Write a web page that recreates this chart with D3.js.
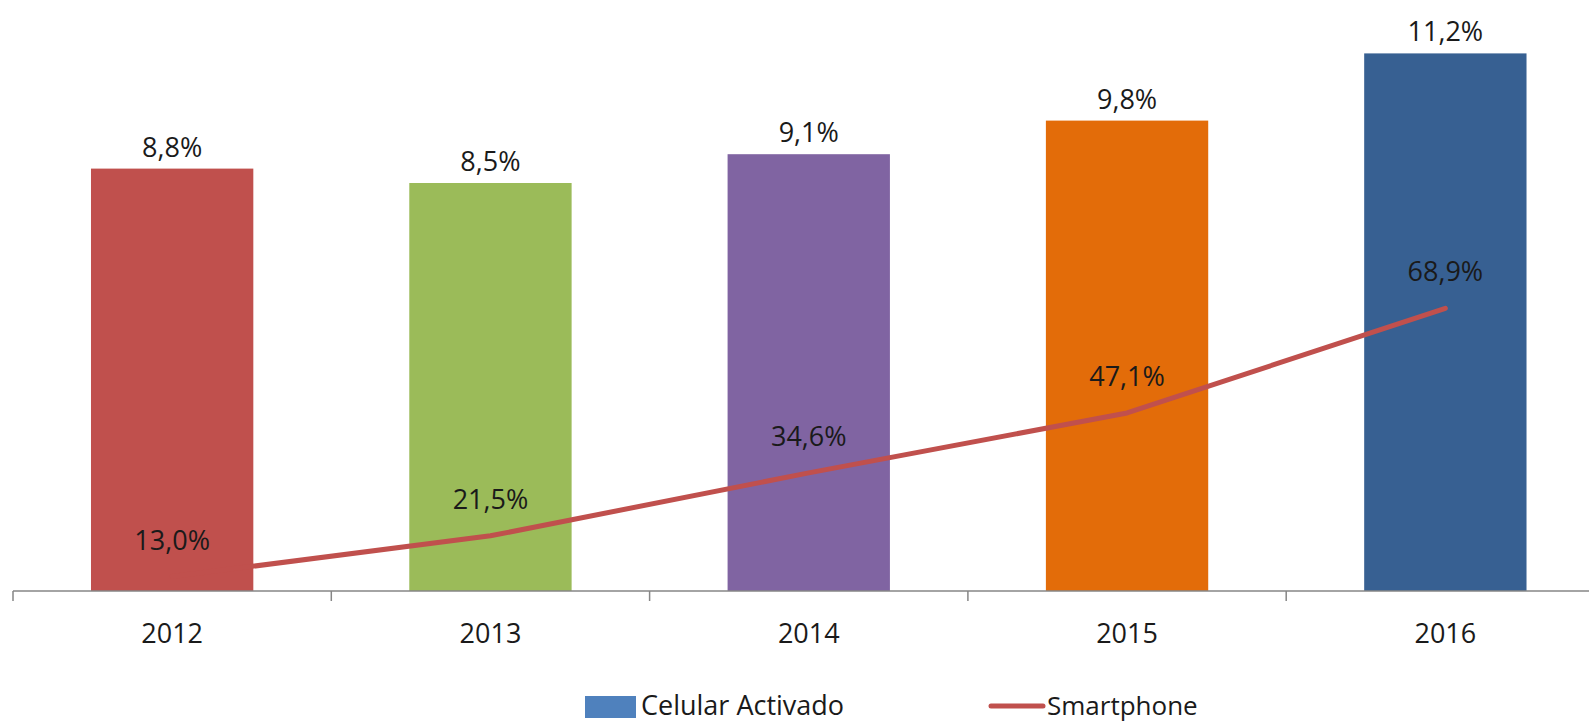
<!DOCTYPE html>
<html>
<head>
<meta charset="utf-8">
<script src="https://cdn.jsdelivr.net/npm/d3@7"></script>
<style>
  body { margin: 0; background: #fff; }
  svg { display: block; font-family: "Open Sans", sans-serif; }
</style>
</head>
<body>
<div id="chart"></div>
<script>
// Celular activado (bars) vs Smartphone (line)

const years = ["2012", "2013", "2014", "2015", "2016"];
const celular = [8.8, 8.5, 9.1, 9.8, 11.2];
const smartphone = [13.0, 21.5, 34.6, 47.1, 68.9];
const barColors = ["#C0504D", "#9BBB59", "#8064A2", "#E36C09", "#376092"];

const width = 1589,
    height = 724,
    axisY = 591,
    plotTop = 15;

const fmt = v => v.toFixed(1).replace(".", ",") + "%";

const svg = d3.select("#chart")
    .append("svg")
    .attr("width", width)
    .attr("height", height);

// category slots (plot runs past the right edge, as in the original)
const slot = d3.scaleBand()
    .domain(years)
    .range([13, 13 + 5 * 318.3]);

const x = slot.copy()
    .paddingInner(0.49)
    .paddingOuter(0.245);

const y = d3.scaleLinear()
    .domain([0, 12])
    .range([axisY, plotTop]);

const y2 = d3.scaleLinear()
    .domain([10, 130])
    .range([axisY, plotTop]);

// bars
svg.append("g")
    .selectAll("rect")
    .data(years)
    .join("rect")
    .attr("x", d => x(d))
    .attr("y", (d, i) => y(celular[i]))
    .attr("width", x.bandwidth())
    .attr("height", (d, i) => axisY - y(celular[i]))
    .attr("fill", (d, i) => barColors[i]);

// bar labels
svg.append("g")
    .selectAll("text")
    .data(years)
    .join("text")
    .attr("x", d => x(d) + x.bandwidth() / 2)
    .attr("y", (d, i) => y(celular[i]) - 12)
    .attr("text-anchor", "middle")
    .attr("font-size", 27)
    .attr("fill", "#1a1a1a")
    .text((d, i) => fmt(celular[i]));

// axis line + tick marks at slot edges
const axis = svg.append("g");
axis.append("line")
    .attr("x1", slot.range()[0])
    .attr("x2", slot.range()[1])
    .attr("y1", axisY)
    .attr("y2", axisY)
    .attr("stroke", "#868686")
    .attr("stroke-width", 1.5);

axis.selectAll(".tick-mark")
    .data(years)
    .join("line")
    .attr("class", "tick-mark")
    .attr("x1", d => slot(d))
    .attr("x2", d => slot(d))
    .attr("y1", axisY)
    .attr("y2", axisY + 10)
    .attr("stroke", "#868686")
    .attr("stroke-width", 1.5);

// year labels
svg.append("g")
    .attr("transform", `translate(0,${axisY})`)
    .call(d3.axisBottom(slot).tickSize(0).tickPadding(0))
    .call(g => g.select(".domain").remove())
    .call(g => g.selectAll("text")
        .attr("y", 52)
        .attr("dy", null)
        .attr("font-size", 27)
        .attr("font-family", "Open Sans, sans-serif")
        .attr("fill", "#1a1a1a"));

// smartphone line
const line = d3.line()
    .x((d, i) => slot(years[i]) + slot.bandwidth() / 2)
    .y(d => y2(d));

svg.append("path")
    .datum(smartphone)
    .attr("d", line)
    .attr("fill", "none")
    .attr("stroke", "#C0504D")
    .attr("stroke-width", 5)
    .attr("stroke-linecap", "round")
    .attr("stroke-linejoin", "round");

svg.append("g")
    .selectAll("text")
    .data(smartphone)
    .join("text")
    .attr("x", (d, i) => slot(years[i]) + slot.bandwidth() / 2)
    .attr("y", d => y2(d) - 27)
    .attr("text-anchor", "middle")
    .attr("font-size", 27)
    .attr("fill", "#1a1a1a")
    .text(d => fmt(d));

// legend
const legend = svg.append("g");
legend.append("rect")
    .attr("x", 585)
    .attr("y", 696)
    .attr("width", 51)
    .attr("height", 22)
    .attr("fill", "#4F81BD");
legend.append("text")
    .attr("x", 641)
    .attr("y", 715)
    .attr("font-size", 27)
    .attr("fill", "#1a1a1a")
    .text("Celular Activado");
legend.append("line")
    .attr("x1", 991)
    .attr("x2", 1043)
    .attr("y1", 706)
    .attr("y2", 706)
    .attr("stroke", "#C0504D")
    .attr("stroke-width", 5)
    .attr("stroke-linecap", "round");
legend.append("text")
    .attr("x", 1047)
    .attr("y", 715)
    .attr("font-size", 26)
    .attr("fill", "#1a1a1a")
    .text("Smartphone");
</script>
</body>
</html>
